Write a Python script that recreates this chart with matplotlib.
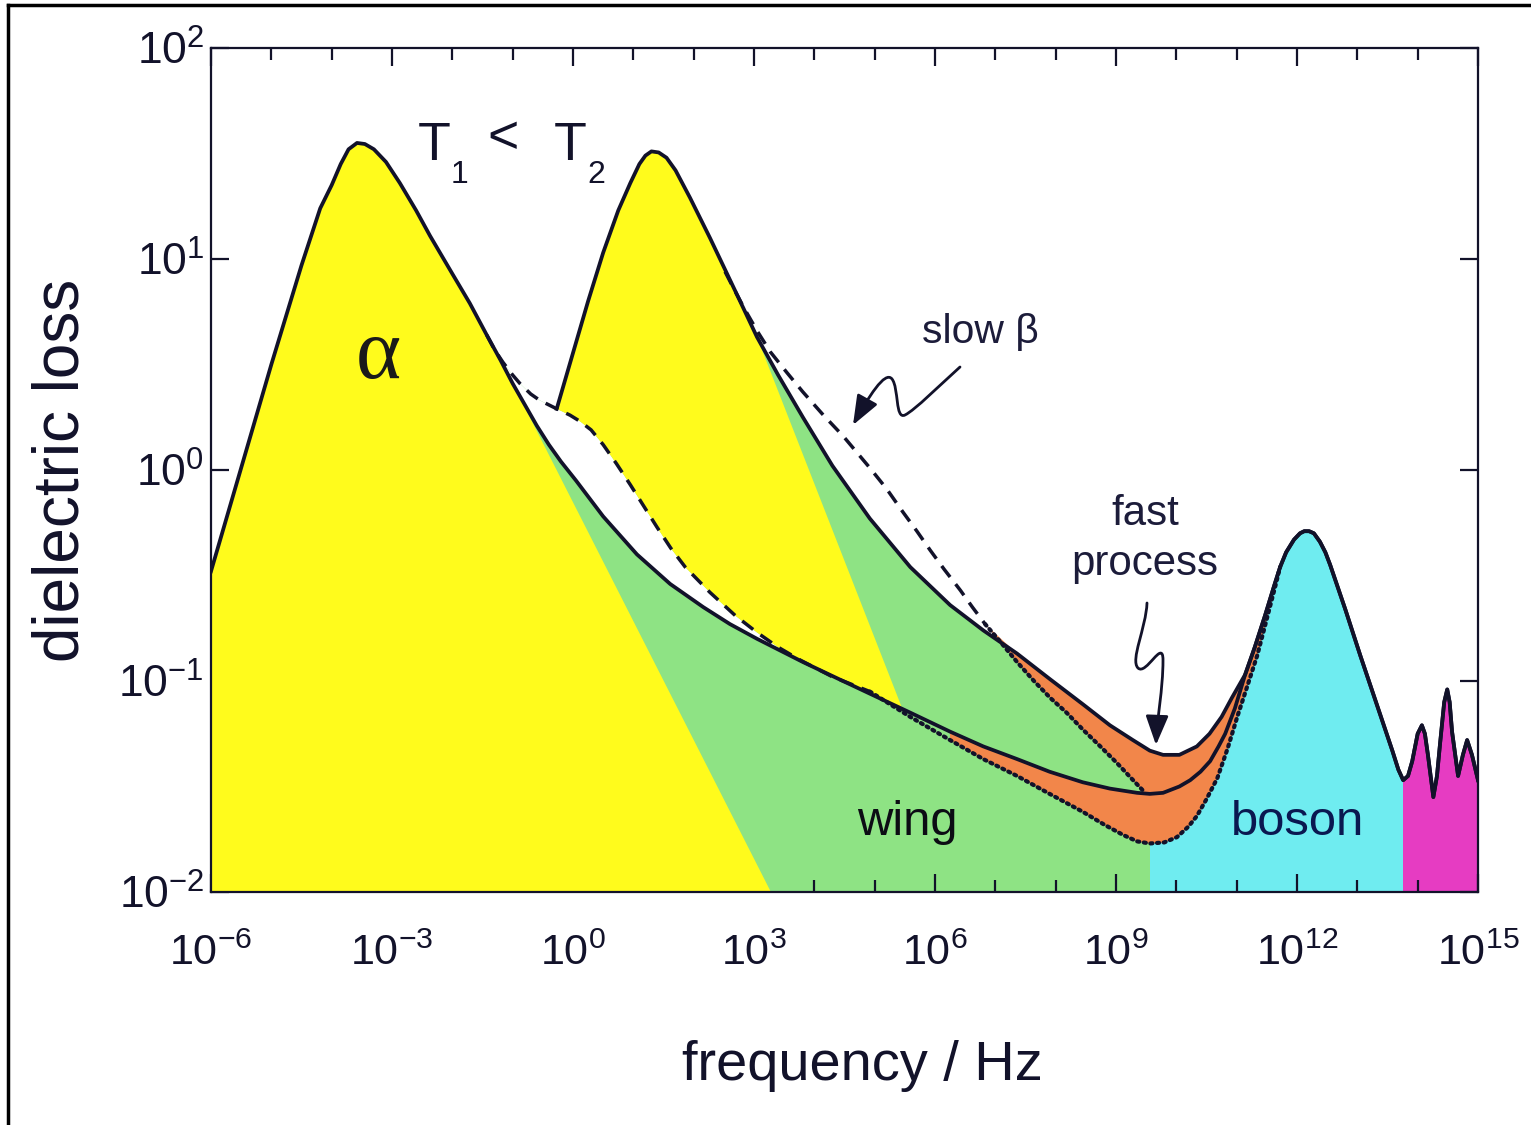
import numpy as np
import matplotlib.pyplot as plt
from matplotlib import font_manager as fm
from matplotlib.path import Path
from matplotlib.patches import FancyArrowPatch
from matplotlib.lines import Line2D
from matplotlib.ticker import FixedLocator, FixedFormatter, NullLocator, NullFormatter

# curves: log10(frequency / Hz), log10(dielectric loss)
t1_lf = [-6.00, -5.00, -4.50, -4.19, -4.00, -3.85, -3.72, -3.58, -3.45, -3.30, -3.10,
         -2.87, -2.60, -2.37, -2.00, -1.71, -1.43, -1.20, -1.00, -0.80, -0.60, -0.40,
         -0.20, 0.05, 0.50, 1.06, 1.61, 2.16, 2.60, 3.05, 3.81, 4.40, 4.92, 5.59, 6.25,
         6.80, 7.36, 7.90, 8.45, 8.90, 9.35, 9.56, 9.78, 10.05, 10.23, 10.40, 10.56,
         10.70, 10.81, 10.97]
t1_le = [-0.48, 0.50, 0.97, 1.24, 1.35, 1.45, 1.52, 1.55, 1.545, 1.52, 1.46,
         1.36, 1.23, 1.11, 0.93, 0.79, 0.64, 0.52, 0.41, 0.31, 0.21, 0.12,
         0.04, -0.05, -0.22, -0.40, -0.54, -0.65, -0.73, -0.80, -0.91, -0.99, -1.06, -1.15, -1.24,
         -1.31, -1.37, -1.43, -1.48, -1.51, -1.53, -1.535, -1.53, -1.50, -1.47, -1.43, -1.38,
         -1.31, -1.25, -1.13]

t2_lf = [-0.27, 0.25, 0.50, 0.75, 0.95, 1.10, 1.20, 1.30, 1.42, 1.55, 1.70, 1.94, 2.27,
         2.72, 3.05, 3.40, 3.81, 4.30, 4.92, 5.59, 6.25, 6.80, 7.36, 7.90, 8.45, 8.90,
         9.28, 9.56, 9.78, 10.05, 10.34, 10.55, 10.75, 10.92]
t2_le = [0.29, 0.80, 1.03, 1.23, 1.36, 1.45, 1.49, 1.51, 1.505, 1.48, 1.42, 1.29, 1.10,
         0.83, 0.63, 0.45, 0.25, 0.02, -0.23, -0.46, -0.64, -0.76, -0.87, -0.99, -1.11, -1.21,
         -1.28, -1.33, -1.35, -1.35, -1.31, -1.25, -1.17, -1.08]

# boson peak and the high frequency bands, common to both temperatures
bos_lf = [11.14, 11.30, 11.47, 11.62, 11.72, 11.82, 11.95, 12.05, 12.12, 12.20, 12.28,
          12.38, 12.47, 12.55, 12.80, 13.05, 13.38, 13.58, 13.68, 13.76, 13.84, 13.91,
          14.00, 14.07, 14.12, 14.17, 14.26, 14.32, 14.37, 14.44, 14.49, 14.53, 14.57,
          14.67, 14.75, 14.82, 14.90, 15.00]
bos_le = [-0.97, -0.84, -0.69, -0.55, -0.46, -0.39, -0.33, -0.30, -0.29, -0.29, -0.30,
          -0.34, -0.39, -0.45, -0.66, -0.88, -1.16, -1.33, -1.42, -1.47, -1.45, -1.38,
          -1.25, -1.21, -1.25, -1.35, -1.55, -1.45, -1.30, -1.10, -1.04, -1.10, -1.24,
          -1.45, -1.35, -1.28, -1.35, -1.47]

# slow beta (dashed) and fast-process-free baseline (dotted)
t1_dash_lf = [-1.43, -1.30, -1.16, -1.00, -0.88, -0.70, -0.55, -0.27, -0.05, 0.12, 0.30,
              0.50, 0.72, 0.95, 1.17, 1.39, 1.62, 1.86, 2.27, 2.69, 3.05, 3.40, 3.76, 4.30, 4.92]
t1_dash_le = [0.64, 0.57, 0.51, 0.45, 0.41, 0.36, 0.33, 0.29, 0.26, 0.23, 0.19,
              0.12, 0.03, -0.07, -0.17, -0.27, -0.37, -0.46, -0.58, -0.69, -0.77, -0.84, -0.90, -0.98, -1.05]
t1_dot_lf = [4.92, 5.59, 6.25, 6.80, 7.36, 7.90, 8.45, 8.80, 9.12, 9.35, 9.56, 9.80, 10.01,
             10.20, 10.34, 10.50, 10.68, 10.85, 11.01, 11.17, 11.34, 11.45, 11.55, 11.65, 11.72]
t1_dot_le = [-1.05, -1.17, -1.28, -1.37, -1.45, -1.535, -1.62, -1.68, -1.73, -1.76, -1.77, -1.765, -1.74,
             -1.69, -1.64, -1.56, -1.46, -1.32, -1.17, -1.03, -0.88, -0.76, -0.65, -0.54, -0.46]

t2_dash_lf = [2.52, 2.70, 2.85, 3.05, 3.27, 3.55, 3.81, 4.15, 4.48, 4.92, 5.20, 5.47, 5.70,
              5.92, 6.15, 6.42, 6.62, 6.83]
t2_dash_le = [0.94, 0.84, 0.76, 0.66, 0.56, 0.46, 0.37, 0.26, 0.16, 0.01, -0.09, -0.20, -0.29,
              -0.38, -0.47, -0.57, -0.65, -0.73]
t2_dot_lf = [6.83, 7.10, 7.36, 7.64, 7.91, 8.18, 8.45, 8.74, 9.02, 9.25, 9.45]
t2_dot_le = [-0.73, -0.82, -0.91, -1.00, -1.08, -1.15, -1.23, -1.31, -1.39, -1.46, -1.52]

# pure alpha flanks (edge of the yellow areas)
a1_tail_lf = [3.28]
a1_tail_le = [-2.00]
a2_tail_lf = [5.47]
a2_tail_le = [-1.14]

# colour bands
band_edges = [-6, 9.56, 13.76, 15]
band_cols = ['#8ee384', '#6fecf0', '#e63cc2']

xt_exp = [-6, -3, 0, 3, 6, 9, 12, 15]
yt_exp = [-2, -1, 0, 1, 2]

ink = '#12122a'
yellow = '#fffb1c'
orange = '#f2864a'

W, H = 1531, 1125
have = {f.name for f in fm.fontManager.ttflist}
if 'Liberation Sans Narrow' in have:
	nar, k = 'Liberation Sans Narrow', 1.0
else:
	nar, k = 'Liberation Sans', 0.84
plt.rcParams['font.family'] = [nar, 'DejaVu Sans']


def xy(lf, le):
	return 10.0**np.asarray(lf, float), 10.0**np.asarray(le, float)


def fp(x, y):
	return x/W, 1-y/H


def seg(lf, le, lo, hi):
	lf = np.asarray(lf, float); le = np.asarray(le, float)
	m = (lf >= lo) & (lf <= hi)
	return lf[m], le[m]


fig = plt.figure(figsize=(W/100, H/100), dpi=100)
ax = fig.add_axes([211/W, 1-892/H, (1478-211)/W, (892-48)/H])
ax.set_xscale('log')
ax.set_yscale('log')
ax.set_xlim(1e-6, 1e15)
ax.set_ylim(1e-2, 1e2)

# envelope of everything under the curves, used to clip the colour bands
l0, e0 = seg(t1_lf, t1_le, -7, -1.44)
l1, e1 = seg(t1_dash_lf, t1_dash_le, -2, -0.28)
env_lf = np.concatenate([l0, l1, t2_lf, bos_lf, [15, -6]])
env_le = np.concatenate([e0, e1, t2_le, bos_le, [-2, -2]])
env = ax.fill(*xy(env_lf, env_le), color='none', lw=0)[0]
for i in range(3):
	sp = ax.axvspan(10.0**band_edges[i], 10.0**band_edges[i+1], color=band_cols[i], lw=0, zorder=1)
	sp.set_clip_path(env)

# alpha peak of T1
la, ea = seg(t1_lf, t1_le, -7, -1.0)
ax.fill(*xy(np.concatenate([la, a1_tail_lf, [-6]]), np.concatenate([ea, a1_tail_le, [-2]])),
        color=yellow, lw=0, zorder=2)

# gap between slow beta and wing curve at T1
s1, e1 = seg(t1_lf, t1_le, -1.43, 4.92)
ax.fill(*xy(np.concatenate([t1_dash_lf, s1[::-1]]), np.concatenate([t1_dash_le, e1[::-1]])),
        color='white', lw=0, zorder=3)

# alpha peak of T2, sitting on the T1 curve
s2, e2 = seg(t2_lf, t2_le, -1, 3.05)
d0, g0 = seg(t1_dash_lf, t1_dash_le, -0.27, 9)
ax.fill(*xy(np.concatenate([s2, a2_tail_lf, d0[::-1]]),
            np.concatenate([e2, a2_tail_le, g0[::-1]])), color=yellow, lw=0, zorder=4)

# fast process areas
u1, v1 = seg(t1_lf, t1_le, 6.0, 20)
b1, c1 = seg(bos_lf, bos_le, 0, 11.72)
d1, g1 = seg(t1_dot_lf, t1_dot_le, 6.0, 11.71)
ax.fill(*xy(np.concatenate([u1, b1, d1[::-1]]), np.concatenate([v1, c1, g1[::-1]])),
        color=orange, lw=0, zorder=5)
u2, v2 = seg(t2_lf, t2_le, 6.9, 20)
d2, g2 = seg(t1_dot_lf, t1_dot_le, 9.5, 11.71)
ax.fill(*xy(np.concatenate([u2, b1, d2[::-1], t2_dot_lf[::-1]]),
            np.concatenate([v2, c1, g2[::-1], t2_dot_le[::-1]])), color=orange, lw=0, zorder=5)

# curves
ax.plot(*xy(t1_dash_lf, t1_dash_le), color=ink, lw=2.5, ls=(0, (4, 2.6)), zorder=6)
ax.plot(*xy(t2_dash_lf, t2_dash_le), color=ink, lw=2.5, ls=(0, (4, 2.6)), zorder=6)
ax.plot(*xy(t1_dot_lf, t1_dot_le), color=ink, lw=3.0, ls=(0, (0.5, 1.1)),
        dash_capstyle='round', zorder=6)
ax.plot(*xy(t2_dot_lf, t2_dot_le), color=ink, lw=3.0, ls=(0, (0.5, 1.1)),
        dash_capstyle='round', zorder=6)
ax.plot(*xy(np.concatenate([t1_lf, bos_lf]), np.concatenate([t1_le, bos_le])),
        color=ink, lw=2.7, solid_joinstyle='round', zorder=7)
ax.plot(*xy(np.concatenate([t2_lf, bos_lf]), np.concatenate([t2_le, bos_le])),
        color=ink, lw=2.7, solid_joinstyle='round', zorder=7)

# axes and ticks
for s in ax.spines.values():
	s.set_color(ink)
	s.set_linewidth(1.6)
	s.set_zorder(8)
ax.xaxis.set_major_locator(FixedLocator([10.0**e for e in xt_exp]))
ax.xaxis.set_major_formatter(FixedFormatter(['$\\mathregular{10^{%d}}$' % e for e in xt_exp]))
ax.xaxis.set_minor_locator(FixedLocator([10.0**e for e in range(-6, 16)]))
ax.xaxis.set_minor_formatter(NullFormatter())
ax.yaxis.set_major_locator(FixedLocator([10.0**e for e in yt_exp]))
ax.yaxis.set_major_formatter(FixedFormatter(['$\\mathregular{10^{%d}}$' % e for e in yt_exp]))
ax.yaxis.set_minor_locator(NullLocator())
ax.tick_params(which='both', direction='in', top=True, right=True, color=ink, width=1.6, zorder=9)
ax.tick_params(which='major', length=13)
ax.tick_params(which='minor', length=8.5)
ax.tick_params(axis='x', pad=30, labelsize=37*k, labelcolor=ink)
ax.tick_params(axis='y', pad=5, labelsize=38*k, labelcolor=ink)
for t in ax.get_xticklabels() + ax.get_yticklabels():
	t.set_family(nar)

# labels
fig.text(*fp(62, 470), 'dielectric loss', rotation=90, ha='center', va='center',
         fontsize=46, color=ink, family='Liberation Sans')
fig.text(*fp(862, 1080), 'frequency / Hz', ha='center', va='baseline', fontsize=48*k, color=ink)
fig.text(*fp(378, 357), '\u03b1', ha='center', va='center', fontsize=62, color='#1a1a1a',
         family=['Liberation Serif', 'DejaVu Serif'])
fig.text(*fp(434, 160), 'T', ha='center', va='baseline', fontsize=46*k, color=ink)
fig.text(*fp(460, 183), '1', ha='center', va='baseline', fontsize=23, color=ink)
fig.text(*fp(503, 153), '<', ha='center', va='baseline', fontsize=46*k, color=ink)
fig.text(*fp(570, 160), 'T', ha='center', va='baseline', fontsize=46*k, color=ink)
fig.text(*fp(596, 183), '2', ha='center', va='baseline', fontsize=23, color=ink)
fig.text(*fp(980, 343), 'slow \u03b2', ha='center', va='baseline', fontsize=35*k, color='#1c1c3a')
fig.text(*fp(1145, 525), 'fast', ha='center', va='baseline', fontsize=36*k, color='#1c1c3a')
fig.text(*fp(1145, 575), 'process', ha='center', va='baseline', fontsize=36*k, color='#1c1c3a')
fig.text(*fp(907, 835), 'wing', ha='center', va='baseline', fontsize=42*k, color='#0c0c14')
fig.text(*fp(1298, 835), 'boson', ha='center', va='baseline', fontsize=42*k, color='#0a1850')

# squiggly arrows
C4, MV = Path.CURVE4, Path.MOVETO
beta_pts = [(960, 367), (940, 385), (915, 410), (905, 415), (895, 420), (899, 388), (892, 379),
            (885, 370), (868, 398), (853, 425)]
fast_pts = [(1147, 603), (1146, 628), (1130, 660), (1138, 668), (1146, 676), (1163, 638),
            (1163, 660), (1163, 690), (1157, 718), (1156, 745)]
for pts in (beta_pts, fast_pts):
	path = Path([fp(*p) for p in pts], [MV] + [C4]*9)
	fig.add_artist(FancyArrowPatch(path=path, transform=fig.transFigure, color=ink, lw=2.0,
	                               arrowstyle='-|>,head_length=0.9,head_width=0.35',
	                               mutation_scale=20))

# frame of the scanned figure
fig.add_artist(Line2D([8/W, 8/W], [0, 1-5/H], transform=fig.transFigure, color='black', lw=2.5))
fig.add_artist(Line2D([8/W, 1], [1-5/H, 1-5/H], transform=fig.transFigure, color='black', lw=2.5))

fig.savefig('out.png', dpi=100, facecolor='white')
